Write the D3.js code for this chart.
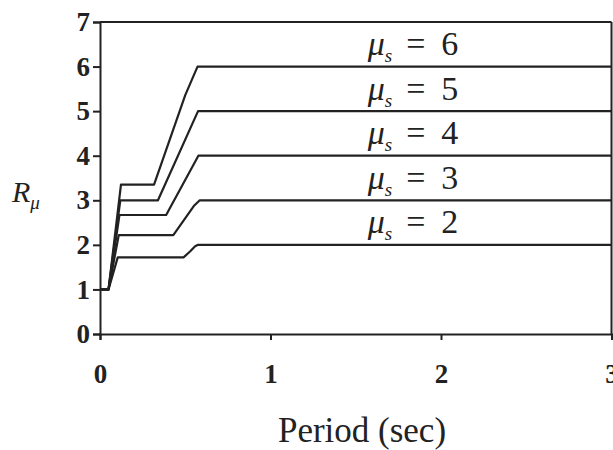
<!DOCTYPE html>
<html>
<head>
<meta charset="utf-8">
<script src="https://cdn.jsdelivr.net/npm/d3@7/dist/d3.min.js"></script>
<style>
  html, body { margin: 0; padding: 0; background: #fff; }
  svg { display: block; }
</style>
</head>
<body>
<svg id="chart" width="613" height="450"></svg>
<script>
// ---- Data ----
const xTicks = [0, 1, 2, 3];
const yTicks = [0, 1, 2, 3, 4, 5, 6, 7];
const muValues = [2, 3, 4, 5, 6];
const seriesMu2 = [[0,1],[0.05,1],[0.104,1.72],[0.49,1.72],[0.528,1.85],[0.558,1.97],[0.575,2],[3,2]];
const seriesMu3 = [[0,1],[0.05,1],[0.11,2.22],[0.43,2.22],[0.55,2.87],[0.585,3],[3,3]];
const seriesMu4 = [[0,1],[0.05,1],[0.114,2.67],[0.388,2.67],[0.577,4],[3,4]];
const seriesMu5 = [[0,1],[0.05,1],[0.119,3.0],[0.34,3.0],[0.575,5],[3,5]];
const seriesMu6 = [[0,1],[0.05,1],[0.123,3.35],[0.317,3.35],[0.50,5.36],[0.572,6],[3,6]];
const series = [seriesMu2, seriesMu3, seriesMu4, seriesMu5, seriesMu6];
const xLabel = "Period (sec)";

// ---- Layout ----
const svg = d3.select("#chart");
const x = d3.scaleLinear().domain([0, 3]).range([100, 611.5]);
const y = d3.scaleLinear().domain([0, 7]).range([334, 22]);
const ink = "#222";
const serif = "'Liberation Serif', 'Times New Roman', serif";

// frame (top and right)
svg.append("line").attr("x1", x(0)).attr("x2", x(3)).attr("y1", y(7)).attr("y2", y(7))
  .attr("stroke", ink).attr("stroke-width", 2);
svg.append("line").attr("x1", x(3)).attr("x2", x(3)).attr("y1", y(7)).attr("y2", y(0))
  .attr("stroke", ink).attr("stroke-width", 2);

// axes
const yAxis = svg.append("g").attr("transform", `translate(${x(0)},0)`)
  .call(d3.axisLeft(y).tickValues(yTicks).tickFormat(d3.format("d")).tickSize(7).tickPadding(3));
const xAxis = svg.append("g").attr("transform", `translate(0,${y(0)})`)
  .call(d3.axisBottom(x).tickValues(xTicks).tickFormat(d3.format("d")).tickSize(6).tickPadding(24));

[yAxis, xAxis].forEach(g => {
  g.select(".domain").attr("stroke", ink).attr("stroke-width", 2);
  g.selectAll(".tick line").attr("stroke", ink).attr("stroke-width", 2);
  g.selectAll(".tick text").attr("fill", ink)
    .style("font-family", serif).style("font-size", "27px").style("font-weight", "bold");
});

// curves
const line = d3.line().x(d => x(d[0])).y(d => y(d[1]));
svg.append("g").selectAll("path").data(series).join("path")
  .attr("d", line).attr("fill", "none").attr("stroke", ink).attr("stroke-width", 2.2)
  .attr("stroke-linejoin", "round");

// curve labels
const lab = svg.append("g").selectAll("text").data(muValues).join("text")
  .attr("x", x(1.57)).attr("y", d => y(d + 0.26))
  .attr("fill", ink).style("font-family", serif).style("font-size", "34px");
lab.append("tspan").text("μ").style("font-style", "italic");
lab.append("tspan").text("s").style("font-style", "italic").style("font-size", "19px").attr("dy", 7);
lab.append("tspan").text("=").attr("dy", -7).attr("dx", 14);
lab.append("tspan").text(d => d).attr("dx", 16);

// axis titles
svg.append("text").attr("x", 362).attr("y", 442).attr("text-anchor", "middle")
  .attr("fill", ink).style("font-family", serif).style("font-size", "35px").text(xLabel);

const rl = svg.append("text").attr("x", 12).attr("y", 202).attr("fill", ink)
  .style("font-family", serif).style("font-size", "30px");
rl.append("tspan").text("R").style("font-style", "italic");
rl.append("tspan").text("μ").style("font-style", "italic").style("font-size", "19px").attr("dy", 7);
</script>
</body>
</html>
